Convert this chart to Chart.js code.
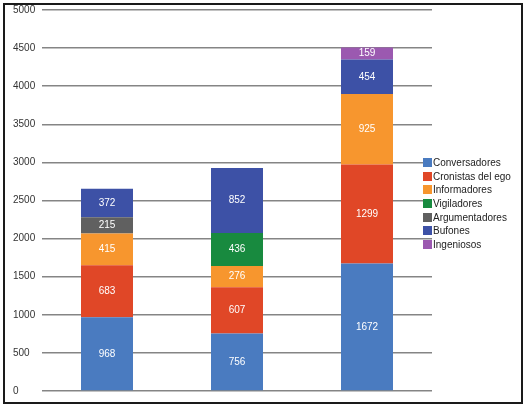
<!DOCTYPE html>
<html>
<head>
<meta charset="utf-8">
<script src="https://cdn.jsdelivr.net/npm/chart.js@4.4.1/dist/chart.umd.min.js"></script>
<style>
  body { margin: 0; background: #fff; }
  #wrap { position: relative; width: 527px; height: 407px; }
  #frame { position: absolute; left: 3px; top: 3px; width: 516px; height: 397px; border: 2px solid #1a1a1a; }
  #legend { position: absolute; left: 423px; top: 156px; font: 10px "Liberation Sans", sans-serif; color: #222; }
  #legend div { height: 13.7px; line-height: 13.7px; white-space: nowrap; }
  #legend span { display: inline-block; width: 9px; height: 9px; margin-right: 1px; vertical-align: -1px; }
</style>
</head>
<body>
<div id="wrap">
  <canvas id="chart" width="527" height="407"></canvas>
  <div id="frame"></div>
  <div id="legend"></div>
</div>
<script>
// categorías (sin etiqueta visible en el eje X)
const categories = ["", "", ""];
const yTicks = [0, 500, 1000, 1500, 2000, 2500, 3000, 3500, 4000, 4500, 5000];

const conversadores = [968, 756, 1672];
const cronistas = [683, 607, 1299];
const informadores = [415, 276, 925];
const vigiladores = [0, 436, 0];
const argumentadores = [215, 0, 0];
const bufones = [372, 852, 454];
const ingeniosos = [0, 0, 159];

const series = [
  { label: "Conversadores", data: conversadores, color: "#4a7bc0" },
  { label: "Cronistas del ego", data: cronistas, color: "#e04727" },
  { label: "Informadores", data: informadores, color: "#f7962e" },
  { label: "Vigiladores", data: vigiladores, color: "#188a3f" },
  { label: "Argumentadores", data: argumentadores, color: "#606060" },
  { label: "Bufones", data: bufones, color: "#3d51a6" },
  { label: "Ingeniosos", data: ingeniosos, color: "#9b59b0" },
];

// leyenda
const legend = document.getElementById("legend");
series.forEach((s) => {
  const row = document.createElement("div");
  row.innerHTML = `<span style="background:${s.color}"></span>${s.label}`;
  legend.appendChild(row);
});

// valores dentro de cada segmento
const barLabels = {
  id: "barLabels",
  afterDatasetsDraw(chart) {
    const ctx = chart.ctx;
    ctx.save();
    ctx.fillStyle = "#ffffff";
    ctx.font = '10px "Liberation Sans", sans-serif';
    ctx.textAlign = "center";
    ctx.textBaseline = "middle";
    chart.data.datasets.forEach((ds, i) => {
      const meta = chart.getDatasetMeta(i);
      meta.data.forEach((bar, j) => {
        const v = ds.data[j];
        if (!v) return;
        ctx.fillText(v, bar.x, (bar.y + bar.base) / 2);
      });
    });
    ctx.restore();
  },
};

const ctx = document.getElementById("chart").getContext("2d");
new Chart(ctx, {
  type: "bar",
  data: {
    labels: categories,
    datasets: series.map((s) => ({
      label: s.label,
      data: s.data,
      backgroundColor: s.color,
      borderWidth: 0,
      categoryPercentage: 1,
      barPercentage: 0.4,
    })),
  },
  options: {
    responsive: false,
    animation: false,
    layout: { padding: { left: 13, right: 95, top: 10, bottom: 16 } },
    plugins: {
      legend: { display: false },
      tooltip: { enabled: false },
    },
    scales: {
      x: {
        stacked: true,
        display: false,
      },
      y: {
        stacked: true,
        min: 0,
        max: 5000,
        afterBuildTicks: (axis) => {
          axis.ticks = yTicks.map((v) => ({ value: v }));
        },
        afterFit: (axis) => {
          axis.width = 29;
        },
        border: { display: false },
        grid: { color: "#858585", lineWidth: 1.4, drawTicks: false },
        ticks: {
          crossAlign: "far",
          color: "#333",
          font: { family: "Liberation Sans", size: 10 },
          callback: (v) => String(v),
        },
      },
    },
  },
  plugins: [barLabels],
});
</script>
</body>
</html>
